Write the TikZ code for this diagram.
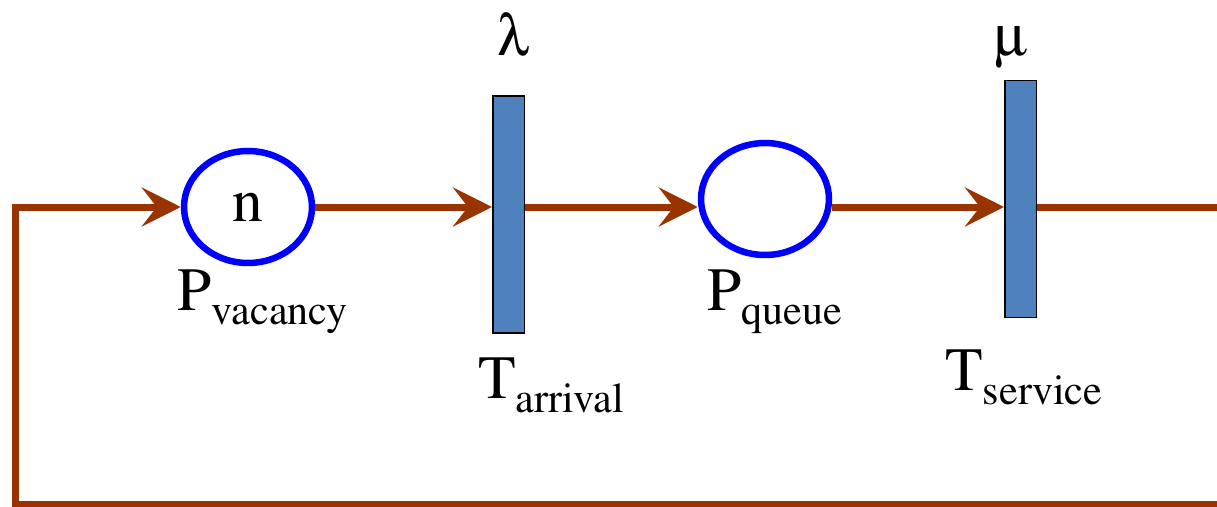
\documentclass[tikz,border=0pt]{standalone}
\usepackage[T1]{fontenc}
\usepackage{mathptmx}
\usepackage{pifont}
\usepackage{tikz}
\usetikzlibrary{shapes.geometric, arrows.meta, positioning}

\definecolor{braun}{HTML}{993300}
\definecolor{balkenblau}{HTML}{4F81BD}
\newcommand{\gross}{\fontsize{35}{40}\selectfont}
\newcommand{\klein}{\fontsize{24}{28}\selectfont}
\newcommand{\idx}[2]{#1\raisebox{-0.28cm}{\klein #2}}
\newcommand{\griech}[1]{{\fontsize{33}{36}\selectfont\Pisymbol{psy}{#1}}}

\tikzset{
	stelle/.style={ellipse, draw=blue, line width=0.13cm, minimum width=2.56cm, minimum height=2.24cm, inner sep=0pt, font=\gross},
	transition/.style={rectangle, draw=black, fill=balkenblau, line width=0.03cm, minimum width=0.63cm, minimum height=4.75cm, inner sep=0pt},
	kante/.style={draw=braun, line width=0.14cm},
	pfeil/.style={kante, -{Stealth[length=0.78cm, width=0.78cm, inset=0.3cm]}},
	beschriftung/.style={anchor=base west, inner sep=0pt, font=\gross}
}

\begin{document}
\begin{tikzpicture}[x=0.02cm, y=-0.02cm]
	\useasboundingbox (0,0) rectangle (1217,507);
	
	% Stellen
	\node[stelle] (P1) at (248,207) {n};
	\node[stelle] (P2) at (765,199) {};
	
	% Transitionen
	\node[transition] (T1) at (508.5,214.5) {};
	\node[transition] (T2) at (1020.5,199) {};
	
	% Beschriftungen
	\node[beschriftung] (lP1) at (177,310) {\idx{P}{vacancy}};
	\node[beschriftung] (lP2) at (707,310) {\idx{P}{queue}};
	\node[beschriftung] (lT1) at (478,398) {\idx{T}{arrival}};
	\node[beschriftung] (lT2) at (945,390) {\idx{T}{service}};
	\node[beschriftung, anchor=base] (lambda) at (513.5,55) {\griech{108}};
	\node[beschriftung, anchor=base] (mu) at (1011,55) {\griech{109}};
	
	% Hilfspunkte
	\coordinate (zeile) at (0,207);
	\coordinate (rechtsoben) at (1217,207);
	\coordinate (rechtsunten) at (1217,504);
	\coordinate (linksunten) at (15.5,504);
	
	% Kanten
	\draw[pfeil] (P1.east) -- (T1.west |- zeile);
	\draw[pfeil] (T1.east |- zeile) -- (P2.west |- zeile);
	\draw[pfeil] (P2.east |- zeile) -- (T2.west |- zeile);
	\draw[kante] (T2.east |- zeile) -- (rechtsoben);
	\draw[pfeil] (rechtsunten) -- (linksunten) |- (P1.west);
\end{tikzpicture}
\end{document}
